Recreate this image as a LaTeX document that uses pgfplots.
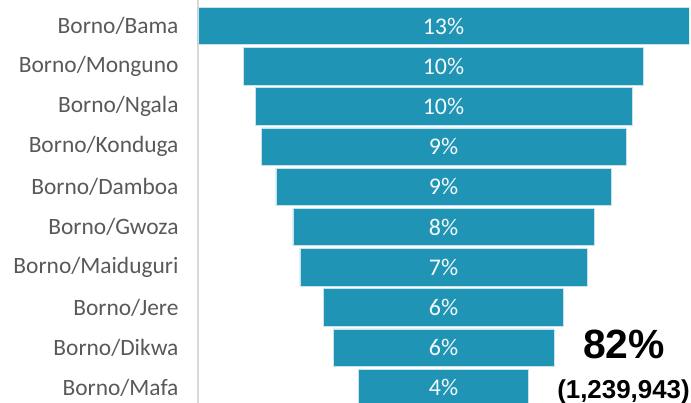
\documentclass[border=0pt]{standalone}
\usepackage{pgfplots}
\pgfplotsset{compat=1.18}
\usepackage{pgfplotstable}
\usepackage{fontspec}
\setmainfont{Carlito}
\newfontfamily\arialfont{Liberation Sans}
\definecolor{barc}{RGB}{31,148,180}
\definecolor{lblc}{RGB}{89,89,89}
\definecolor{axc}{RGB}{217,217,217}

\pgfplotstableread{
idx off w
1 0.000 13.00
2 1.205 10.59
3 1.510 9.98
4 1.670 9.66
5 2.065 8.87
6 2.515 7.97
7 2.700 7.60
8 3.325 6.35
9 3.575 5.85
10 4.250 4.50
}\funneldata

\pgfplotstableread{
idx mid lab
1 6.5 13\%
2 6.5 10\%
3 6.5 10\%
4 6.5 9\%
5 6.5 9\%
6 6.5 8\%
7 6.5 7\%
8 6.5 6\%
9 6.5 6\%
10 6.5 4\%
}\labeldata

\begin{document}
\begin{tikzpicture}
\path[use as bounding box] (-198bp,0) rectangle (493bp,403bp);
\pgfplotsset{funnelaxis/.style={
  at={(0,0)}, anchor=south west,
  scale only axis, width=491bp, height=403bp,
  xmin=0, xmax=13, ymin=0.353, ymax=10.378, y dir=reverse,
}}
\begin{axis}[funnelaxis,
  xbar stacked, bar width=37.5bp,
  axis x line=none, axis y line*=left,
  y axis line style={draw=axc, line width=1.5bp},
  ytick={1,...,10},
  yticklabels={Borno/Bama,Borno/Monguno,Borno/Ngala,Borno/Konduga,Borno/Damboa,Borno/Gwoza,Borno/Maiduguri,Borno/Jere,Borno/Dikwa,Borno/Mafa},
  major tick length=0pt,
  yticklabel style={font=\fontsize{23.5}{27}\selectfont, text=lblc, anchor=east, xshift=-16bp},
]
\addplot[draw=none, fill=none] table[x=off, y=idx] {\funneldata};
\addplot[fill=barc, draw=white!75!barc, line width=0.7bp] table[x=w, y=idx] {\funneldata};
\end{axis}
\begin{axis}[funnelaxis, hide axis]
\addplot[draw=none, mark=none, nodes near coords, point meta=explicit symbolic,
  nodes near coords style={anchor=center, text=white!95!barc, font=\fontsize{24}{28}\selectfont}]
  table[x=mid, y=idx, meta=lab] {\labeldata};
\end{axis}
\node[anchor=base, font=\arialfont\bfseries\fontsize{41}{46}\selectfont] at (426bp,44bp) {82\%};
\node[anchor=base, font=\arialfont\bfseries\fontsize{26}{30}\selectfont] at (425.5bp,5bp) {(1,239,943)};
\end{tikzpicture}
\end{document}
